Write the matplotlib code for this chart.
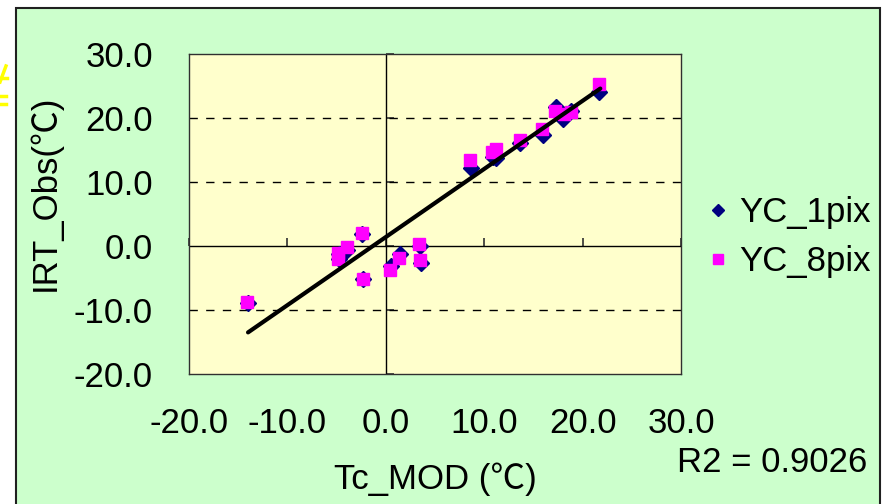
import matplotlib
matplotlib.use("Agg")
import matplotlib.pyplot as plt
from matplotlib.patches import Rectangle
from matplotlib.lines import Line2D
import numpy as np

# ---- data ----
yc1_x = [-14.0, -4.8, -4.8, -3.9, -2.4, -2.29, 0.54, 1.4, 3.44, 3.6,
         8.7, 10.9, 11.2, 13.6, 16.0, 17.3, 18.0, 18.8, 21.7]
yc1_y = [-8.9, -1.3, -2.0, -0.7, 1.8, -5.2, -3.1, -1.3, 0.0, -2.6,
         12.2, 13.9, 13.7, 16.1, 17.4, 21.7, 19.9, 21.1, 24.1]
yc8_x = [-14.1, -4.85, -4.85, -3.96, -2.46, -2.29, 0.44, 1.33, 3.34, 3.5,
         8.56, 10.8, 11.2, 13.6, 15.9, 17.15, 18.1, 18.8, 21.7]
yc8_y = [-8.75, -1.15, -2.1, -0.2, 2.0, -5.2, -3.75, -1.8, 0.36, -2.14,
         13.5, 14.7, 15.2, 16.5, 18.3, 21.06, 20.6, 20.9, 25.3]
trend_x = [-14.0, 21.8]
trend_y = [-13.5, 24.6]
x_ticks = [-20, -10, 0, 10, 20, 30]
y_ticks = [-20, -10, 0, 10, 20, 30]
series_names = ["YC_1pix", "YC_8pix"]
r2_text = "R2 = 0.9026"

FONT = ["Liberation Sans", "Noto Sans CJK SC", "DejaVu Sans"]
plt.rcParams["font.family"] = FONT
FS = 25

W, H = 888, 504
fig = plt.figure(figsize=(W / 100, H / 100), dpi=100, facecolor="white")

# outer green chart area
fig.patches.append(Rectangle((16 / W, 1 - 600 / H), (880 - 16) / W, (600 - 8) / H,
                             transform=fig.transFigure, facecolor="#CCFFCC",
                             edgecolor="#202020", linewidth=1.5, zorder=-10))

# yellow fragments at the far left edge (cut-off decoration)
for (x0, y0, x1, y1) in [(0, 82, 6, 66), (0, 78, 7, 78), (0, 96, 6, 96), (0, 104, 6, 104)]:
    fig.lines.append(Line2D([x0 / W, x1 / W], [1 - y0 / H, 1 - y1 / H],
                            transform=fig.transFigure, color="#FFFF00", lw=2.5))

ax = fig.add_axes([189 / W, 1 - 374 / H, 492 / W, 320 / H])
ax.set_facecolor("#FFFFCC")
ax.set_xlim(-20, 30)
ax.set_ylim(-20, 30)
for s in ax.spines.values():
    s.set_color("#303030")
    s.set_linewidth(1.0)

ax.set_xticks(x_ticks)
ax.set_yticks(y_ticks)
ax.set_xticklabels([f"{v:.1f}" for v in x_ticks])
ax.set_yticklabels([f"{v:.1f}" for v in y_ticks])
ax.tick_params(axis="x", length=0, pad=24, labelsize=FS)
ax.tick_params(axis="y", length=0, pad=26, labelsize=FS)

# gridlines (dashed) and zero axes
for v in y_ticks:
    if v not in (0, -20, 30):
        ax.axhline(v, color="black", lw=1.0, ls=(0, (6, 6)), zorder=1)
ax.axhline(0, color="black", lw=1.0, zorder=2)
ax.axvline(0, color="black", lw=1.0, zorder=2)

# tick marks on the zero axes
secx = ax.secondary_xaxis(0.4)
secx.set_xticks(x_ticks)
secx.tick_params(axis="x", direction="in", length=6, width=1.2, color="#303030",
                 labelbottom=False, labeltop=False)
secx.spines["bottom"].set_visible(False)
secx.spines["top"].set_visible(False)
secy = ax.secondary_yaxis(0.4)
secy.set_yticks(y_ticks)
secy.tick_params(axis="y", direction="in", length=6, width=1.2, color="#303030",
                 labelleft=False, labelright=False)
secy.spines["left"].set_visible(False)
secy.spines["right"].set_visible(False)

ax.plot(yc1_x, yc1_y, ls="none", marker="D", ms=8, color="#000080",
        markeredgecolor="#000080", zorder=3, label=series_names[0])
ax.plot(yc8_x, yc8_y, ls="none", marker="s", ms=8.5, color="#FF00FF",
        markeredgecolor="#FF00FF", zorder=4, label=series_names[1])
ax.plot(trend_x, trend_y, color="black", lw=3, zorder=5, solid_capstyle="round")

leg = ax.legend(loc="center left", bbox_to_anchor=(678 / W, 1 - 237 / H),
                bbox_transform=fig.transFigure, frameon=False, fontsize=FS,
                handlelength=0.5, handletextpad=0.35, labelspacing=0.45,
                markerscale=0.8)

fig.text(435 / W, 1 - 479 / H, "Tc_MOD (℃)", fontsize=FS, ha="center", va="center")
fig.text(45 / W, 1 - 193 / H, "IRT_Obs(℃)", fontsize=FS, ha="center", va="center",
         rotation=90)
fig.text(867 / W, 1 - 463 / H, r2_text, fontsize=FS, ha="right", va="center")

fig.savefig("out.png", dpi=100, facecolor="white")
